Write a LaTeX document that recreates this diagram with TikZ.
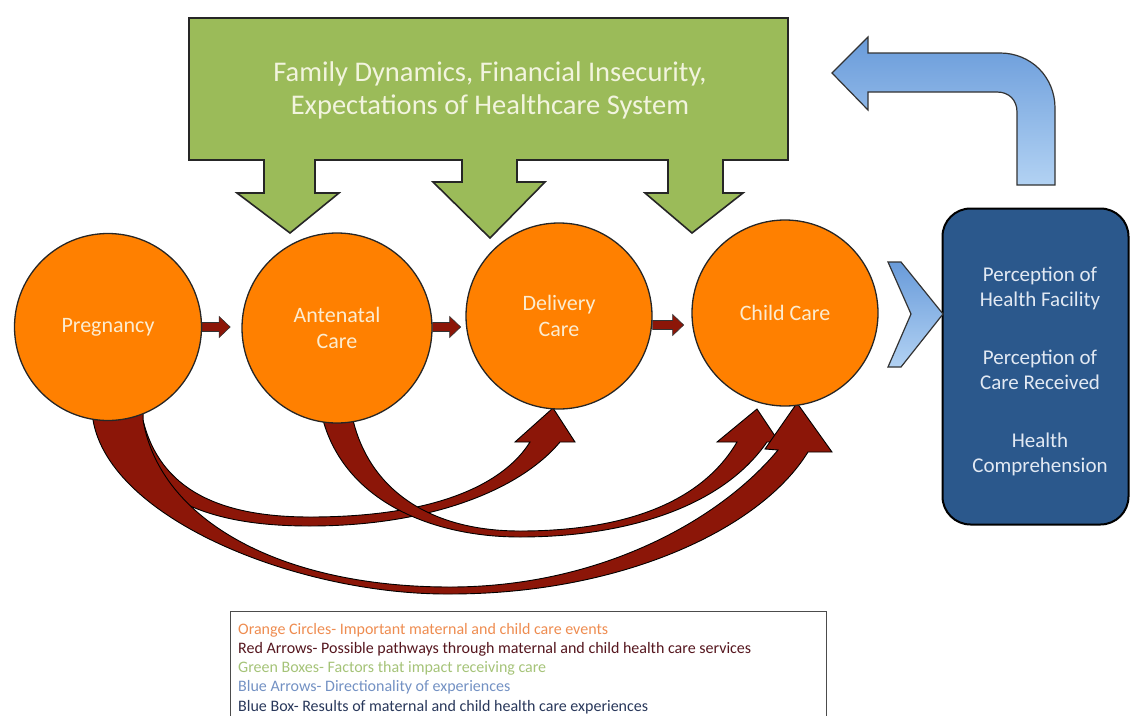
\documentclass[tikz,border=0pt]{standalone}
\usepackage{fontspec}
\setmainfont{Carlito}
\usetikzlibrary{calc}
\definecolor{orangeC}{RGB}{255,128,0}
\definecolor{greenB}{RGB}{155,187,89}
\definecolor{redA}{RGB}{140,22,8}
\definecolor{blueBox}{RGB}{43,88,140}
\definecolor{blueTop}{RGB}{105,155,218}
\definecolor{blueBot}{RGB}{178,210,243}
\definecolor{creamT}{RGB}{252,236,208}
\definecolor{greenT}{RGB}{242,244,222}
\definecolor{boxT}{RGB}{226,233,243}
\definecolor{legO}{RGB}{238,140,80}
\definecolor{legR}{RGB}{85,22,30}
\definecolor{legG}{RGB}{165,195,120}
\definecolor{legB}{RGB}{115,145,195}
\definecolor{legK}{RGB}{40,55,90}
\begin{document}
\begin{tikzpicture}[x=1pt,y=-1pt,
  greenshape/.style={fill=greenB,draw=black!85,line width=1.6pt,line join=miter},
  greentext/.style={text=greenT,align=center,font=\fontsize{28.5}{33}\selectfont},
  event/.style={circle,fill=orangeC,draw=black!85,line width=1.3pt,inner sep=0pt,
    text=creamT,align=center,font=\fontsize{22}{26}\selectfont},
  smallarrow/.style={fill=redA,draw=black!80,line width=0.6pt},
  curvearrow/.style={fill=redA,draw=black,line width=0.9pt},
  bluearrow/.style={top color=blueTop,bottom color=blueBot,draw=black!80,line width=1.2pt},
  bluebox/.style={rectangle,rounded corners=28pt,fill=blueBox,draw=black,line width=2pt,
    minimum width=186pt,minimum height=316pt},
  boxtext/.style={text=boxT,align=center,font=\fontsize{21}{25}\selectfont},
  legendbox/.style={rectangle,draw=black!70,line width=0.8pt,minimum width=596pt,minimum height=108pt,anchor=north west,inner sep=0pt},
  legline/.style={anchor=base west,inner sep=0pt,font=\fontsize{16}{19}\selectfont}
]
\useasboundingbox (0,0) rectangle (1130,715);

% green factor box with its three arrows
\draw[greenshape] (189,18) -- (788,18) -- (788,160) -- (723,160) -- (723,193) -- (743,193)
  -- (692,233) -- (645,193) -- (668,193) -- (668,160) -- (517,160) -- (517,182) -- (545,182)
  -- (490,238) -- (433,182) -- (462,182) -- (462,160) -- (315,160) -- (315,193) -- (339,193)
  -- (290,233) -- (237,193) -- (264,193) -- (264,160) -- (189,160) -- cycle;
\node[greentext] (factors) at (490,90) {Family Dynamics, Financial Insecurity,\\Expectations of Healthcare System};

% curved red pathway arrows
\draw[curvearrow] (115,400) -- (115,420) .. controls (140,510) and (230,526) .. (310,526)
  .. controls (430,526) and (520,490) .. (560,442) -- (575,442) -- (553,408) -- (515,442) -- (530,442)
  .. controls (505,482) and (440,517) .. (310,517) .. controls (220,517) and (160,490) .. (143,420) -- (143,400) -- cycle;
\draw[curvearrow] (323,405) -- (323,420) .. controls (345,500) and (430,537) .. (520,537)
  .. controls (620,537) and (720,510) .. (767,442) -- (779,442) -- (757,409) -- (717,442) -- (737,442)
  .. controls (700,505) and (620,531) .. (520,531) .. controls (430,531) and (370,490) .. (353,420) -- (353,405) -- cycle;
\draw[curvearrow] (93,400) -- (93,420) .. controls (110,520) and (300,595) .. (450,594)
  .. controls (620,594) and (760,530) .. (808,452) -- (832,452) -- (797,403) -- (765,449) -- (778,450)
  .. controls (720,520) and (600,587) .. (450,587) .. controls (280,587) and (160,520) .. (143,420) -- (143,400) -- cycle;

% events
\node[event,minimum size=187pt] (preg) at (108,327) {Pregnancy};
\node[event,minimum size=190pt] (ante) at (337,328) {Antenatal\\Care};
\node[event,minimum size=186pt] (deli) at (559,316) {Delivery\\Care};
\node[event,minimum size=186pt] (child) at (785,313) {Child Care};

% small red arrows
\draw[smallarrow] ($(preg.east)+(0,-4.5)$) -- ++(17,0) -- ++(0,-6) -- ++(11,10.5) -- ++(-11,10.5) -- ++(0,-6) -- ++(-17,0) -- cycle;
\draw[smallarrow] ($(ante.east)+(0,-5.5)$) -- ++(17,0) -- ++(0,-6) -- ++(11,10.5) -- ++(-11,10.5) -- ++(0,-6) -- ++(-17,0) -- cycle;
\draw[smallarrow] ($(deli.east)+(0,4.5)$) -- ++(20,0) -- ++(0,-6) -- ++(11,10.5) -- ++(-11,10.5) -- ++(0,-6) -- ++(-20,0) -- cycle;

% results box
\node[bluebox] (results) at (1035.5,366.5) {};
\node[boxtext] (resultstext) at (1040,371) {Perception of\\Health Facility\\[33pt]Perception of\\Care Received\\[33pt]Health\\Comprehension};

% blue arrows
\draw[bluearrow] (888,262) -- (901,262) -- (943,314) -- (901,367) -- (888,367) -- (911,314) -- cycle;
\draw[bluearrow] (1017,185) -- (1017,112) .. controls (1017,100) and (1009,92) .. (997,92) -- (868,92)
  -- (868,110) -- (832,73) -- (868,37) -- (868,53) -- (1000,53) .. controls (1031,53) and (1055,77) .. (1055,108)
  -- (1055,185) -- cycle;

% legend
\node[legendbox] (legend) at (230,611) {};
\node[legline,text=legO] (leg1) at (238,634) {Orange Circles- Important maternal and child care events};
\node[legline,text=legR] (leg2) at (238,653.3) {Red Arrows- Possible pathways through maternal and child health care services};
\node[legline,text=legG] (leg3) at (238,672.6) {Green Boxes- Factors that impact receiving care};
\node[legline,text=legB] (leg4) at (238,691.9) {Blue Arrows- Directionality of experiences};
\node[legline,text=legK] (leg5) at (238,711.2) {Blue Box- Results of maternal and child health care experiences};
\end{tikzpicture}
\end{document}
